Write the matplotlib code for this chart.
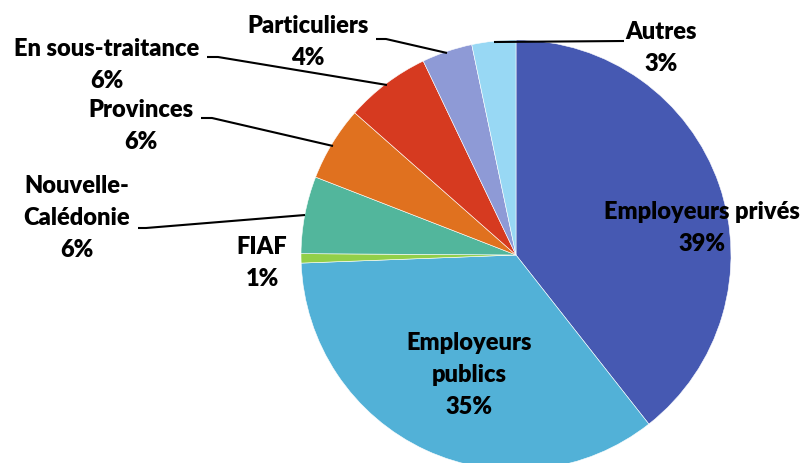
import matplotlib.pyplot as plt

# shares (%), clockwise from 12 o'clock
categories = ["Employeurs privés", "Employeurs publics", "FIAF", "Nouvelle-Calédonie",
              "Provinces", "En sous-traitance", "Particuliers", "Autres"]
values = [39.4, 35.0, 0.7, 5.8, 5.6, 6.4, 3.8, 3.3]
label_texts = ["Employeurs privés\n39%", "Employeurs\npublics\n35%", "FIAF\n1%",
               "Nouvelle-\nCalédonie\n6%", "Provinces\n6%", "En sous-traitance\n6%",
               "Particuliers\n4%", "Autres\n3%"]
colors = ["#4659B2", "#52B1D7", "#92CF48", "#52B69C",
          "#E0711F", "#D63A20", "#8E9AD6", "#98D8F4"]

W, H = 806, 463
fig = plt.figure(figsize=(W / 100, H / 100), dpi=100)
ax = fig.add_axes([0, 0, 1, 1])

cx, cy, r = 516, H - 255, 215
ax.pie(values, colors=colors, startangle=90, counterclock=False,
       center=(cx, cy), radius=r, frame=True,
       wedgeprops=dict(edgecolor="white", linewidth=0.4))
ax.set_xlim(0, W)
ax.set_ylim(0, H)
ax.set_aspect("equal")
ax.axis("off")

font = dict(family=["Lato", "DejaVu Sans"], fontweight="heavy", fontsize=17,
            ha="center", va="center", linespacing=1.55, color="black")

# label centres in pixel coords (y from top)
label_pos = [(702, 228), (469, 375), (262, 263), (77, 218),
             (141, 126), (107, 65), (308, 42), (661, 48)]
for txt, (x, y) in zip(label_texts, label_pos):
    ax.text(x, H - y, txt, **font)

# leader lines (pixel coords, y from top)
leaders = [
    [(138, 228), (146, 228), (305, 215)],
    [(201, 118), (212, 118), (333, 146)],
    [(207, 57), (218, 57), (387, 85)],
    [(376, 39), (386, 39), (447, 53)],
    [(624, 41), (494, 42)],
]
for pts in leaders:
    xs = [p[0] for p in pts]
    ys = [H - p[1] for p in pts]
    ax.plot(xs, ys, color="black", linewidth=1.5, solid_capstyle="butt")

fig.savefig("out.png", dpi=100)
